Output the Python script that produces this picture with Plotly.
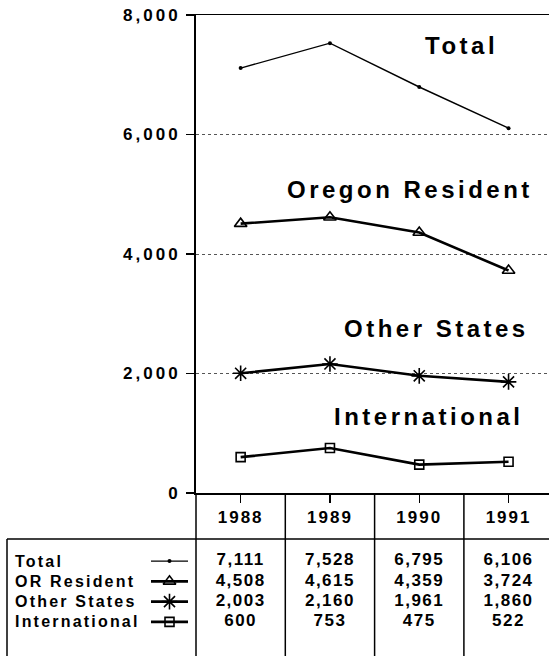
import plotly.graph_objects as go

# ---------------- data ----------------
years = ["1988", "1989", "1990", "1991"]
series_names = ["Total", "OR Resident", "Other States", "International"]
chart_labels = ["Total", "Oregon Resident", "Other States", "International"]
total = [7111, 7528, 6795, 6106]
or_resident = [4508, 4615, 4359, 3724]
other_states = [2003, 2160, 1961, 1860]
international = [600, 753, 475, 522]
y_ticks = [0, 2000, 4000, 6000, 8000]

values = [total, or_resident, other_states, international]

# ---------------- styling ----------------
W, H = 549, 656
FONT = "Liberation Sans, Arial, Helvetica, sans-serif"
BLACK = "#000000"


def px(x):
    return x / W


def py(y):
    return 1 - y / H


def sp(text, s):
    return f"<span style='letter-spacing:{s}px'>{text}</span>"


styles = [
    dict(symbol="circle", size=4, lw=1.4, mlw=0),
    dict(symbol="triangle-up-open", size=11, lw=2.6, mlw=1.6),
    dict(symbol="asterisk-open", size=13, lw=2.6, mlw=1.6),
    dict(symbol="square-open", size=9, lw=2.6, mlw=1.6),
]
# label anchor (right edge x, centre y) in pixels
label_pos = [(500, 46), (535, 189), (531, 329), (526, 416)]

fig = go.Figure()

for name, vals, st in zip(series_names, values, styles):
    fig.add_trace(go.Scatter(
        x=years, y=vals, mode="lines+markers", name=name,
        line=dict(color=BLACK, width=st["lw"]),
        marker=dict(symbol=st["symbol"], size=st["size"], color=BLACK,
                    line=dict(color=BLACK, width=st["mlw"])),
        cliponaxis=False, xaxis="x", yaxis="y",
    ))

# legend glyphs inside the table (own hidden axes)
for name, st in zip(series_names, styles):
    fig.add_trace(go.Scatter(
        x=[0, 1], y=[name, name], mode="lines",
        line=dict(color=BLACK, width=st["lw"]),
        xaxis="x2", yaxis="y2", cliponaxis=False,
    ))
    fig.add_trace(go.Scatter(
        x=[0.5], y=[name], mode="markers",
        marker=dict(symbol=st["symbol"], size=st["size"], color=BLACK,
                    line=dict(color=BLACK, width=st["mlw"])),
        xaxis="x2", yaxis="y2", cliponaxis=False,
    ))

# table values as a text trace sharing the year axis
tx, ty, tt = [], [], []
for name, vals in zip(series_names, values):
    for yr, v in zip(years, vals):
        tx.append(yr)
        ty.append(name)
        tt.append(sp(f"{v:,}", 1.5))
fig.add_trace(go.Scatter(
    x=tx, y=ty, text=tt, mode="text", textposition="middle center",
    textfont=dict(size=17, family=FONT, color=BLACK, weight="bold"),
    xaxis="x", yaxis="y3", cliponaxis=False,
))

annotations = []
# chart series labels
for lab, (rx, cy) in zip(chart_labels, label_pos):
    annotations.append(dict(
        text=sp(lab, 3.5), xref="paper", yref="paper",
        x=px(rx), y=py(cy), xanchor="right", yanchor="middle",
        showarrow=False, font=dict(size=24, family=FONT, color=BLACK, weight="bold"),
    ))
# table row labels
for name in series_names:
    annotations.append(dict(
        text=sp(name, 2.2), xref="paper", yref="y2", x=px(13), y=name,
        xanchor="left", yanchor="middle", showarrow=False,
        font=dict(size=16, family=FONT, color=BLACK, weight="bold"),
    ))

line_style = dict(color=BLACK, width=1.5)
shapes = [
    # line under the year header
    dict(type="line", xref="paper", yref="paper", x0=px(7), x1=1,
         y0=py(539), y1=py(539), line=line_style),
    # left border of the table
    dict(type="line", xref="paper", yref="paper", x0=px(7), x1=px(7),
         y0=py(539), y1=py(656), line=line_style),
    # continuation of the value axis through the table
    dict(type="line", xref="paper", yref="paper", x0=px(196), x1=px(196),
         y0=py(493), y1=py(656), line=line_style),
]
for i in range(len(years) - 1):
    shapes.append(dict(type="line", xref="x", yref="paper", x0=i + 0.5, x1=i + 0.5,
                       y0=py(493), y1=py(656), line=line_style))

rows_dom = [py(632), py(551)]

fig.update_layout(
    width=W, height=H,
    margin=dict(l=0, r=0, t=0, b=0),
    paper_bgcolor="white", plot_bgcolor="rgba(0,0,0,0)",
    showlegend=False, hovermode=False,
    font=dict(family=FONT, color=BLACK, size=16, weight="bold"),
    xaxis=dict(
        domain=[px(196), 1], type="category", categoryorder="array",
        categoryarray=years, range=[-0.5, 3.453],
        showline=True, linecolor=BLACK, linewidth=1.5, mirror=True,
        ticks="outside", ticklen=8, tickcolor=BLACK, tickwidth=1.5,
        tickvals=years, ticktext=[sp(y, 2) for y in years],
        tickfont=dict(size=17, family=FONT, color=BLACK, weight="bold"),
        ticklabelstandoff=0,
        showgrid=False, zeroline=False, automargin=False, fixedrange=True,
        anchor="y",
    ),
    yaxis=dict(
        domain=[py(493), py(15)], range=[0, 8000],
        showline=True, linecolor=BLACK, linewidth=2,
        ticks="outside", ticklen=8, tickcolor=BLACK, tickwidth=1.5,
        tickvals=y_ticks, ticktext=[sp(f"{v:,}", 3) for v in y_ticks],
        tickfont=dict(size=17, family=FONT, color=BLACK, weight="bold"),
        ticklabelstandoff=2,
        showgrid=True, gridcolor="#555555", gridwidth=1, griddash="dot",
        zeroline=False, automargin=False, fixedrange=True,
        anchor="x",
    ),
    xaxis2=dict(domain=[px(151), px(188)], range=[0, 1], visible=False,
                anchor="y2", fixedrange=True),
    yaxis2=dict(domain=rows_dom, type="category",
                categoryorder="array", categoryarray=series_names,
                range=[3.5, -0.5], visible=False, anchor="x2", fixedrange=True),
    yaxis3=dict(domain=rows_dom, type="category",
                categoryorder="array", categoryarray=series_names,
                range=[3.5, -0.5], visible=False, anchor="x", fixedrange=True),
    annotations=annotations,
    shapes=shapes,
)

fig.write_html("out.html", config={"displayModeBar": False, "staticPlot": True},
               post_script="document.body.style.margin='0';")
